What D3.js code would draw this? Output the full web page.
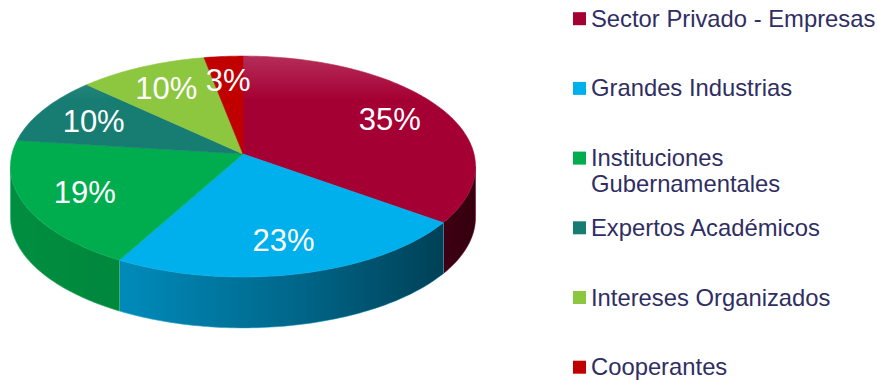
<!DOCTYPE html>
<html>
<head>
<meta charset="utf-8">
<script src="https://cdn.jsdelivr.net/npm/d3@7"></script>
<style>
  html, body { margin: 0; padding: 0; background: #ffffff; }
  svg { display: block; font-family: "Liberation Sans", Arial, sans-serif; }
</style>
</head>
<body>
<div id="chart"></div>
<script>
// chart data
const categories = [
  "Sector Privado - Empresas",
  "Grandes Industrias",
  "Instituciones Gubernamentales",
  "Expertos Académicos",
  "Intereses Organizados",
  "Cooperantes"
];
const shares = [35, 23, 19, 10, 10, 3];
const sliceColors = ["#a50034", "#00b0ec", "#00ad4e", "#177d72", "#8dc63f", "#c00000"];

const width = 877;
const height = 381;

// 3D pie geometry (perspective projection of a flat disc)
const cx = 243, cy = 154;   // pie centre on screen
const rx = 231, ry = 109;   // radii of the disc
const persp = 8.84;         // viewing distance (in disc radii)
const depth = 51;           // thickness of the pie

const svg = d3.select("#chart").append("svg")
  .attr("width", width)
  .attr("height", height)
  .attr("viewBox", `0 0 ${width} ${height}`);

const defs = svg.append("defs");

// project a point on the disc (angle clockwise from 12 o'clock, radius fraction)
function proj(theta, r, dy) {
  const X = r * Math.sin(theta);
  const Z = -r * Math.cos(theta);
  const s = persp / (persp - Z);
  return [cx + rx * X * s, cy + ry * Z * s + (dy || 0)];
}

function arcPoints(a0, a1, r, dy) {
  const n = Math.max(2, Math.ceil(Math.abs(a1 - a0) / (Math.PI / 180)));
  return d3.range(n + 1).map(i => proj(a0 + (a1 - a0) * i / n, r, dy));
}

const line = d3.line();

const pie = d3.pie().sort(null).value(d => d.value).startAngle(0).endAngle(2 * Math.PI);
const data = categories.map((c, i) => ({ name: c, value: shares[i], color: sliceColors[i] }));
const arcs = pie(data);

// side shading: darker toward the right, a bit darker at the far left
const sideShade = defs.append("linearGradient")
  .attr("id", "sideShade")
  .attr("gradientUnits", "userSpaceOnUse")
  .attr("x1", cx - rx).attr("x2", cx + rx).attr("y1", 0).attr("y2", 0);
sideShade.append("stop").attr("offset", 0).attr("stop-color", "#000").attr("stop-opacity", 0.18);
sideShade.append("stop").attr("offset", 0.25).attr("stop-color", "#000").attr("stop-opacity", 0.22);
sideShade.append("stop").attr("offset", 0.62).attr("stop-color", "#000").attr("stop-opacity", 0.42);
sideShade.append("stop").attr("offset", 1).attr("stop-color", "#000").attr("stop-opacity", 0.68);

// lighter sheen at the top of some slices
const glossy = new Set(["Sector Privado - Empresas", "Expertos Académicos"]);
arcs.forEach((a, i) => {
  const g = defs.append("linearGradient")
    .attr("id", "top" + i)
    .attr("gradientUnits", "userSpaceOnUse")
    .attr("x1", 0).attr("x2", 0)
    .attr("y1", cy - ry).attr("y2", cy - 10);
  const c = d3.color(a.data.color);
  g.append("stop").attr("offset", 0)
    .attr("stop-color", glossy.has(a.data.name) ? d3.interpolateRgb(c, "#ffffff")(0.22) : c.formatHex());
  g.append("stop").attr("offset", 0.55).attr("stop-color", c.formatHex());
});

const pieG = svg.append("g");

// visible outer wall: from the left silhouette to the right silhouette (front half)
const edge = Math.acos(-1 / persp);
const sideG = pieG.append("g");
arcs.forEach(a => {
  const a0 = Math.max(a.startAngle, edge);
  const a1 = Math.min(a.endAngle, 2 * Math.PI - edge);
  if (a1 <= a0) return;
  const pts = arcPoints(a0, a1, 1, 0).concat(arcPoints(a1, a0, 1, depth));
  const d = line(pts) + "Z";
  sideG.append("path")
    .attr("d", d)
    .attr("fill", a.data.color)
    .attr("stroke", d3.interpolateRgb(a.data.color, "#ffffff")(0.3))
    .attr("stroke-width", 0.8);
  sideG.append("path")
    .attr("d", d)
    .attr("fill", "url(#sideShade)");
});

// top face
const topG = pieG.append("g");
arcs.forEach((a, i) => {
  const pts = [proj(0, 0, 0)].concat(arcPoints(a.startAngle, a.endAngle, 1, 0));
  topG.append("path")
    .attr("d", line(pts) + "Z")
    .attr("fill", `url(#top${i})`)
    .attr("stroke", `url(#top${i})`)
    .attr("stroke-width", 0.6);
});

// percentage labels
const labelR = 0.74;
pieG.append("g").selectAll("text")
  .data(arcs)
  .join("text")
  .attr("transform", d => {
    const p = proj((d.startAngle + d.endAngle) / 2, labelR, 0);
    return `translate(${p[0]},${p[1]})`;
  })
  .attr("text-anchor", "middle")
  .attr("dy", "0.36em")
  .attr("fill", "#ffffff")
  .style("font-size", "31px")
  .text(d => d3.format(".0f")(d.value) + "%");

// legend
const legendX = 573;
const legendTop = 26.7;
const legendStep = 69.7;
const legendMaxWidth = 292;
const legend = svg.append("g").style("font-size", "23.8px");

categories.forEach((name, i) => {
  const y = legendTop + i * legendStep;
  const c = d3.color(sliceColors[i]);
  legend.append("rect")
    .attr("x", legendX)
    .attr("y", y - 14.5)
    .attr("width", 13)
    .attr("height", 13)
    .attr("fill", c.formatHex());

  const text = legend.append("text")
    .attr("x", legendX + 18)
    .attr("y", y)
    .attr("fill", "#2f2e63");

  // simple word wrap
  const words = name.split(" ");
  let lineWords = [];
  let tspan = text.append("tspan").attr("x", legendX + 18).attr("y", y);
  let lineNo = 0;
  words.forEach(w => {
    lineWords.push(w);
    tspan.text(lineWords.join(" "));
    if (tspan.node().getComputedTextLength() > legendMaxWidth && lineWords.length > 1) {
      lineWords.pop();
      tspan.text(lineWords.join(" "));
      lineWords = [w];
      lineNo++;
      tspan = text.append("tspan")
        .attr("x", legendX + 18)
        .attr("y", y + lineNo * 26)
        .text(w);
    }
  });
});
</script>
</body>
</html>
